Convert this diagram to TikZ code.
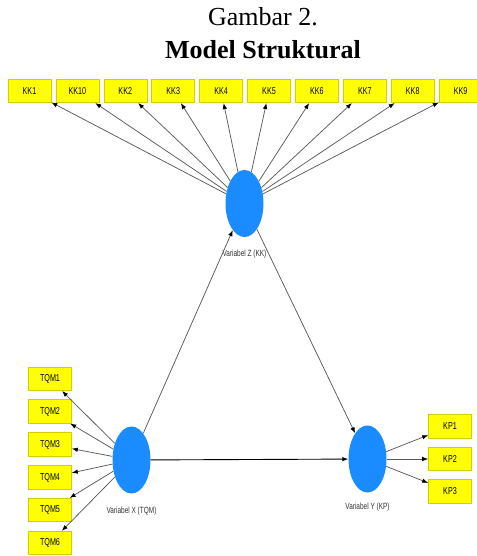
\documentclass[tikz,border=0pt]{standalone}
\usepackage{fontspec}
\setmainfont{Liberation Serif}
\newfontfamily\plsfont{Liberation Sans}[FakeStretch=0.72]
\usetikzlibrary{arrows.meta,shapes.geometric}
\definecolor{plsindicator}{HTML}{FFFF00}
\definecolor{plsborder}{HTML}{D6CC00}
\definecolor{plslatent}{HTML}{1A8CFF}
\definecolor{plstext}{HTML}{333333}
\definecolor{plsline}{HTML}{5A5A5A}
\tikzset{
  pls indicator/.style={
    rectangle, draw=plsborder, fill=plsindicator, text=black,
    line width=0.6pt,
    minimum width=43pt, minimum height=23.5pt, inner sep=0pt,
    font=\plsfont\fontsize{10}{11}\selectfont
  },
  pls latent/.style={
    ellipse, fill=plslatent, draw=none,
    minimum width=38pt, minimum height=67pt, inner sep=0pt
  },
  pls line/.style={
    draw=plsline, line width=0.75pt
  },
  pls arrow/.style={
    pls line,
    -{Latex[length=6pt,width=4.5pt,color=black]}
  },
  pls label/.style={
    text=plstext, font=\plsfont\fontsize{9}{10}\selectfont, inner sep=0pt
  }
}

\begin{document}
\begin{tikzpicture}[x=1pt,y=-1pt]
  \useasboundingbox (0,0) rectangle (476,556);
  \node[anchor=base,font=\fontsize{26}{30}\selectfont] (title) at (263,26) {Gambar 2.};
  \node[anchor=base,font=\fontsize{26}{30}\selectfont\bfseries] (subtitle) at (263,59) {Model Struktural};

  \node[pls latent] (varz) at (244.5,203.5) {};
  \node[pls latent] (varx) at (131.5,460) {};
  \node[pls latent] (vary) at (367.5,459) {};
  \node[pls label] (labz) at (244.5,254) {Variabel Z (KK)};
  \node[pls label] (labx) at (131.5,511) {Variabel X (TQM)};
  \node[pls label] (laby) at (367.5,507.5) {Variabel Y (KP)};

  \node[pls indicator] (kk1) at (29.5,91) {KK1};
  \node[pls indicator] (kk10) at (77.4,91) {KK10};
  \node[pls indicator] (kk2) at (125.3,91) {KK2};
  \node[pls indicator] (kk3) at (173.2,91) {KK3};
  \node[pls indicator] (kk4) at (221.1,91) {KK4};
  \node[pls indicator] (kk5) at (269,91) {KK5};
  \node[pls indicator] (kk6) at (316.9,91) {KK6};
  \node[pls indicator] (kk7) at (364.8,91) {KK7};
  \node[pls indicator] (kk8) at (412.7,91) {KK8};
  \node[pls indicator] (kk9) at (460.6,91) {KK9};

  \node[pls indicator] (tqm1) at (50,379) {TQM1};
  \node[pls indicator] (tqm2) at (50,411.5) {TQM2};
  \node[pls indicator] (tqm3) at (50,444.5) {TQM3};
  \node[pls indicator] (tqm4) at (50,477.5) {TQM4};
  \node[pls indicator] (tqm5) at (50,510) {TQM5};
  \node[pls indicator] (tqm6) at (50,543) {TQM6};

  \node[pls indicator] (kp1) at (450,426.5) {KP1};
  \node[pls indicator] (kp2) at (450,459) {KP2};
  \node[pls indicator] (kp3) at (450,491.5) {KP3};

  % outer loadings
  \draw[pls arrow] (varz) -- (kk1);
  \draw[pls arrow] (varz) -- (kk10);
  \draw[pls arrow] (varz) -- (kk2);
  \draw[pls arrow] (varz) -- (kk3);
  \draw[pls arrow] (varz) -- (kk4);
  \draw[pls arrow] (varz) -- (kk5);
  \draw[pls arrow] (varz) -- (kk6);
  \draw[pls arrow] (varz) -- (kk7);
  \draw[pls arrow] (varz) -- (kk8);
  \draw[pls arrow] (varz) -- (kk9);
  \draw[pls arrow] (varx) -- (tqm1);
  \draw[pls arrow] (varx) -- (tqm2);
  \draw[pls arrow] (varx) -- (tqm3);
  \draw[pls arrow] (varx) -- (tqm4);
  \draw[pls arrow] (varx) -- (tqm5);
  \draw[pls arrow] (varx) -- (tqm6);
  \draw[pls arrow] (vary) -- (kp1);
  \draw[pls arrow] (vary) -- (kp2);
  \draw[pls arrow] (vary) -- (kp3);

  % inner model
  \draw[pls arrow] (varx) -- (varz);
  \draw[pls arrow] (varz) -- (vary);
  \draw[pls arrow,draw=black,line width=0.9pt] (varx) -- (vary);
\end{tikzpicture}
\end{document}
